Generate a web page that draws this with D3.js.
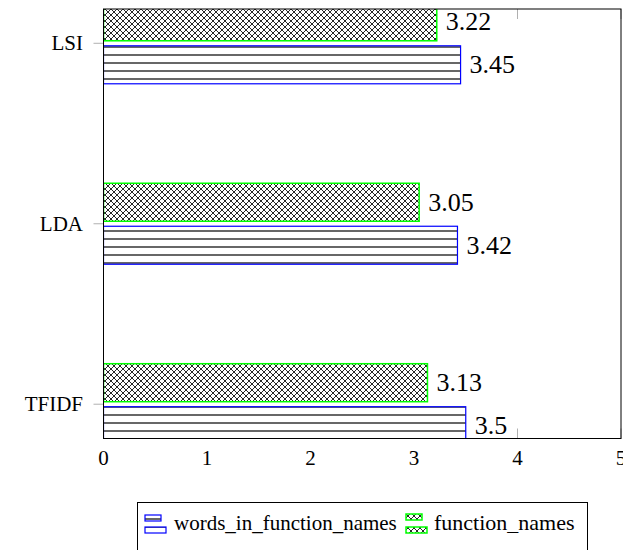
<!DOCTYPE html>
<html>
<head>
<meta charset="utf-8">
<script src="https://d3js.org/d3.v7.min.js"></script>
<style>
  body { margin: 0; background: white; }
  svg text { font-family: "Liberation Serif", "DejaVu Serif", serif; fill: black; }
</style>
</head>
<body>
<svg width="623" height="550"></svg>
<script>
// chart data
const categories = ["TFIDF", "LDA", "LSI"];
const wordsInFunctionNames = [3.5, 3.42, 3.45];
const functionNames = [3.13, 3.05, 3.22];
const xTicks = [0, 1, 2, 3, 4, 5];
const seriesNames = ["words_in_function_names", "function_names"];

const serif = "'Liberation Serif', 'DejaVu Serif', serif";
const svg = d3.select("svg");
const plotL = 103.5, plotR = 621, plotT = 9, plotB = 438.5;
const barH = 38, gap = 2.5;

const x = d3.scaleLinear().domain([0, 5]).range([plotL, plotR]);
const y = d3.scaleLinear().domain([-0.19, 2.19]).range([plotB, plotT]);

const defs = svg.append("defs");

// horizontal lines pattern
const hl = defs.append("pattern")
  .attr("id", "hlines")
  .attr("patternUnits", "userSpaceOnUse")
  .attr("width", 8).attr("height", 8);
hl.append("rect").attr("width", 8).attr("height", 8).attr("fill", "white");
hl.append("line").attr("x1", 0).attr("x2", 8).attr("y1", 7).attr("y2", 7)
  .attr("stroke", "black").attr("stroke-width", 1.2);

// crosshatch pattern
const ch = defs.append("pattern")
  .attr("id", "xhatch")
  .attr("patternUnits", "userSpaceOnUse")
  .attr("width", 6).attr("height", 6);
ch.append("rect").attr("width", 6).attr("height", 6).attr("fill", "white");
ch.append("path").attr("d", "M-1,-1L7,7M-1,7L7,-1")
  .attr("stroke", "black").attr("stroke-width", 0.85);

defs.append("clipPath").attr("id", "plotclip")
  .append("rect")
  .attr("x", plotL).attr("y", plotT)
  .attr("width", plotR - plotL).attr("height", plotB - plotT);

// ticks (grey)
const tickCol = "#b0b0b0";
const tg = svg.append("g").attr("stroke", tickCol).attr("stroke-width", 1);
xTicks.forEach(t => {
  tg.append("line").attr("x1", x(t)).attr("x2", x(t)).attr("y1", plotB).attr("y2", plotB - 10);
  tg.append("line").attr("x1", x(t)).attr("x2", x(t)).attr("y1", plotT).attr("y2", plotT + 10);
});
categories.forEach((c, i) => {
  tg.append("line").attr("x1", plotL - 10).attr("x2", plotL).attr("y1", y(i)).attr("y2", y(i));
});

// bars
const bars = svg.append("g").attr("clip-path", "url(#plotclip)");
categories.forEach((c, i) => {
  const cy = y(i);
  bars.append("rect")
    .attr("x", x(0)).attr("y", cy - gap - barH)
    .attr("width", x(functionNames[i]) - x(0)).attr("height", barH)
    .attr("fill", "url(#xhatch)")
    .attr("stroke", "#00ff00").attr("stroke-width", 1.5);
  bars.append("rect")
    .attr("x", x(0)).attr("y", cy + gap)
    .attr("width", x(wordsInFunctionNames[i]) - x(0)).attr("height", barH)
    .attr("fill", "url(#hlines)")
    .attr("stroke", "#0000ff").attr("stroke-width", 1.2);
});

// axis box
svg.append("rect")
  .attr("x", plotL).attr("y", plotT)
  .attr("width", plotR - plotL).attr("height", plotB - plotT)
  .attr("fill", "none").attr("stroke", "black").attr("stroke-width", 1);

// value labels
categories.forEach((c, i) => {
  const cy = y(i);
  svg.append("text")
    .attr("x", x(functionNames[i]) + 9).attr("y", cy - gap - barH / 2)
    .attr("dominant-baseline", "central")
    .attr("font-family", serif)
    .style("font-size", "26px")
    .text(functionNames[i]);
  svg.append("text")
    .attr("x", x(wordsInFunctionNames[i]) + 9).attr("y", cy + gap + barH / 2)
    .attr("dominant-baseline", "central")
    .attr("font-family", serif)
    .style("font-size", "26px")
    .text(wordsInFunctionNames[i]);
});

// tick labels
xTicks.forEach(t => {
  svg.append("text")
    .attr("x", x(t)).attr("y", 465)
    .attr("text-anchor", "middle")
    .attr("font-family", serif)
    .style("font-size", "21px")
    .text(t);
});
categories.forEach((c, i) => {
  svg.append("text")
    .attr("x", 83).attr("y", y(i))
    .attr("text-anchor", "end")
    .attr("dominant-baseline", "central")
    .attr("font-family", serif)
    .style("font-size", "21px")
    .text(c);
});

// legend
const lg = svg.append("g");
lg.append("rect")
  .attr("x", 137.5).attr("y", 502.5)
  .attr("width", 450).attr("height", 60)
  .attr("fill", "white").attr("stroke", "black").attr("stroke-width", 1);

lg.append("rect").attr("x", 145).attr("y", 515).attr("width", 16).attr("height", 6)
  .attr("fill", "url(#hlines)").attr("stroke", "#0000ff").attr("stroke-width", 1.2);
lg.append("rect").attr("x", 145).attr("y", 527).attr("width", 21).attr("height", 6)
  .attr("fill", "url(#hlines)").attr("stroke", "#0000ff").attr("stroke-width", 1.2);
lg.append("text").attr("x", 174).attr("y", 530)
  .attr("font-family", serif)
  .style("font-size", "21px").text(seriesNames[0]);

lg.append("rect").attr("x", 406).attr("y", 514).attr("width", 16).attr("height", 6)
  .attr("fill", "url(#xhatch)").attr("stroke", "#00ff00").attr("stroke-width", 1.5);
lg.append("rect").attr("x", 406).attr("y", 527).attr("width", 21).attr("height", 6)
  .attr("fill", "url(#xhatch)").attr("stroke", "#00ff00").attr("stroke-width", 1.5);
lg.append("text").attr("x", 434).attr("y", 530)
  .attr("font-family", serif)
  .style("font-size", "22px").text(seriesNames[1]);
</script>
</body>
</html>
